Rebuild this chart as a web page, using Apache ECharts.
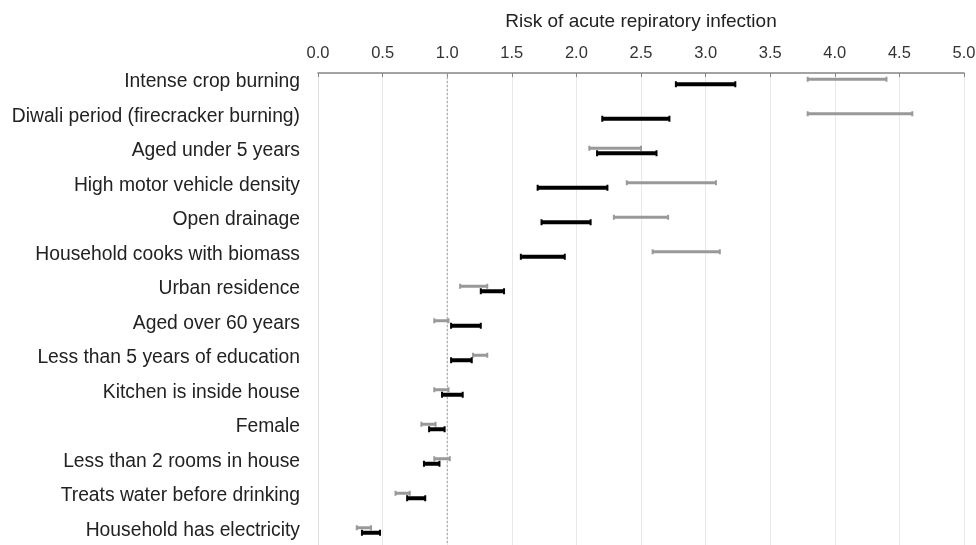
<!DOCTYPE html>
<html>
<head>
<meta charset="utf-8">
<script src="https://cdn.jsdelivr.net/npm/echarts@6/dist/echarts.min.js"></script>
<style>
html,body{margin:0;padding:0;background:#fff;}
#chart{width:976px;height:545px;}
</style>
</head>
<body>
<div id="chart"></div>
<script>
const categories = [
  'Intense crop burning',
  'Diwali period (firecracker burning)',
  'Aged under 5 years',
  'High motor vehicle density',
  'Open drainage',
  'Household cooks with biomass',
  'Urban residence',
  'Aged over 60 years',
  'Less than 5 years of education',
  'Kitchen is inside house',
  'Female',
  'Less than 2 rooms in house',
  'Treats water before drinking',
  'Household has electricity'
];
const grayLow  = [3.79, 3.79, 2.10, 2.39, 2.29, 2.59, 1.10, 0.90, 1.20, 0.90, 0.80, 0.90, 0.60, 0.30];
const grayHigh = [4.40, 4.60, 2.50, 3.08, 2.71, 3.11, 1.31, 1.01, 1.31, 1.01, 0.91, 1.02, 0.71, 0.41];
const blackLow  = [2.77, 2.20, 2.16, 1.70, 1.73, 1.57, 1.26, 1.03, 1.03, 0.96, 0.86, 0.82, 0.69, 0.34];
const blackHigh = [3.23, 2.72, 2.62, 2.24, 2.11, 1.91, 1.44, 1.26, 1.19, 1.12, 0.98, 0.94, 0.83, 0.48];
const referenceValue = 1.0;
const axisTitle = 'Risk of acute repiratory infection';

const FONT = 'Liberation Sans, Arial, sans-serif';
const ROW_SHIFT = -8.5;

function makeSeries(low, high, color, width, offset, capH) {
  return {
    type: 'custom',
    data: categories.map((c, i) => [low[i], high[i], i]),
    encode: { x: [0, 1], y: 2 },
    clip: false,
    renderItem: function (params, api) {
      const a = api.coord([api.value(0), api.value(2)]);
      const b = api.coord([api.value(1), api.value(2)]);
      const y = a[1] + ROW_SHIFT + offset;
      return {
        type: 'group',
        children: [
          { type: 'line', shape: { x1: a[0], y1: y, x2: b[0], y2: y }, style: { stroke: color, lineWidth: width } },
          { type: 'line', shape: { x1: a[0], y1: y - capH, x2: a[0], y2: y + capH }, style: { stroke: color, lineWidth: 2 } },
          { type: 'line', shape: { x1: b[0], y1: y - capH, x2: b[0], y2: y + capH }, style: { stroke: color, lineWidth: 2 } }
        ]
      };
    }
  };
}

const refSeries = {
  type: 'custom',
  data: [[referenceValue, 0]],
  encode: { x: 0, y: 1 },
  z: 1,
  renderItem: function (params, api) {
    const p = api.coord([api.value(0), api.value(1)]);
    const cs = params.coordSys;
    return {
      type: 'line',
      shape: { x1: p[0], y1: cs.y, x2: p[0], y2: cs.y + cs.height },
      style: { stroke: '#a0a0a0', lineWidth: 1, lineDash: [2, 2] }
    };
  }
};

const chart = echarts.init(document.getElementById('chart'), null, { renderer: 'canvas' });
const grayS = makeSeries(grayLow, grayHigh, '#999999', 3, -2.5, 2.5);
const blackS = makeSeries(blackLow, blackHigh, '#000000', 4, 2.5, 3);
grayS.z = 3; blackS.z = 4;

chart.setOption({
  animation: false,
  backgroundColor: '#fff',
  grid: { left: 318, top: 73, width: 646, height: 483, containLabel: false, outerBoundsMode: 'none' },
  xAxis: {
    type: 'value',
    position: 'top',
    min: 0, max: 5, interval: 0.5,
    name: axisTitle,
    nameLocation: 'middle',
    nameGap: 42,
    nameTextStyle: { fontFamily: FONT, fontSize: 19, color: '#222' },
    axisLine: { show: true, lineStyle: { color: '#858585', width: 1.5 } },
    axisTick: { show: true, inside: true, length: 4, lineStyle: { color: '#858585' } },
    axisLabel: { margin: 11, fontFamily: FONT, fontSize: 16.5, color: '#333', formatter: v => v.toFixed(1) },
    splitLine: { show: true, lineStyle: { color: '#e8e8e8', width: 1 } }
  },
  yAxis: {
    type: 'category',
    data: categories,
    inverse: true,
    axisLine: { show: true, lineStyle: { color: '#e0e0e0' } },
    axisTick: { show: false },
    axisLabel: { margin: 18, fontFamily: FONT, fontSize: 19.3, color: '#222', lineHeight: 17, verticalAlign: 'bottom' },
    splitLine: { show: false }
  },
  series: [refSeries, grayS, blackS]
});
</script>
</body>
</html>
